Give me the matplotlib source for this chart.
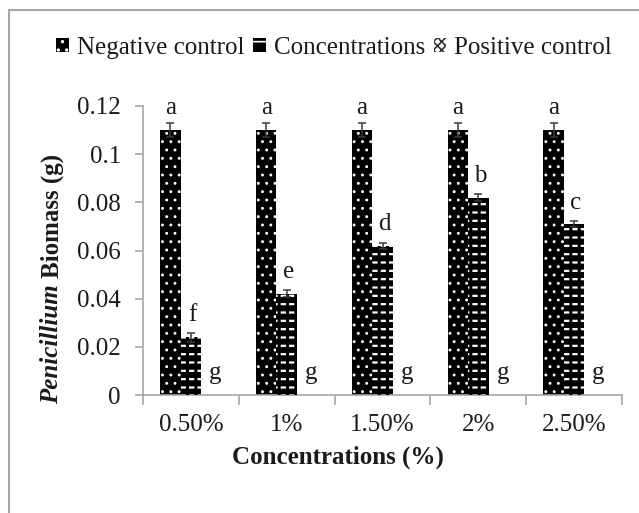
import matplotlib
matplotlib.use('Agg')
import matplotlib.pyplot as plt
from matplotlib.patches import Patch, Rectangle
import numpy as np

categories = ['0.50%', '1%', '1.50%', '2%', '2.50%']
negative = [0.11, 0.11, 0.11, 0.11, 0.11]
negative_err = [0.003, 0.003, 0.003, 0.003, 0.003]
concentrations = [0.024, 0.042, 0.062, 0.082, 0.071]
concentrations_err = [0.0018, 0.0015, 0.0013, 0.0013, 0.0013]
positive = [0, 0, 0, 0, 0]
neg_letters = ['a', 'a', 'a', 'a', 'a']
conc_letters = ['f', 'e', 'd', 'b', 'c']
pos_letters = ['g', 'g', 'g', 'g', 'g']

FONT = 'Liberation Serif'
FS = 18
plt.rcParams['font.family'] = FONT

W_PX, H_PX = 639, 513
fig = plt.figure(figsize=(W_PX/100, H_PX/100), dpi=100)
ax = fig.add_axes([143/W_PX, 1-395/H_PX, (622-143)/W_PX, (395-106)/H_PX])

x = np.arange(len(categories))
w = 0.214
GRAY = '#a6a6a6'
TXT = '#1a1a1a'

def hatched_bar(xpos, vals, hatch, face, hcolor, hlw, z=2):
    with plt.rc_context({'hatch.linewidth': hlw, 'hatch.color': hcolor}):
        bars = ax.bar(xpos, vals, w, color=face, edgecolor=hcolor, hatch=hatch, linewidth=0, zorder=z)
        for b in bars:
            if hasattr(b, 'set_hatch_linewidth'):
                b.set_hatch_linewidth(hlw)
    return bars

# Negative control: black with white dots
hatched_bar(x - w, negative, '..', 'black', 'white', 0.9)
# Concentrations: black with white brick dashes
hatched_bar(x, concentrations, '--', 'black', 'white', 1.6)
hatched_bar(x, concentrations, '||', 'none', 'black', 2.2, z=3)
# Positive control
hatched_bar(x + w, positive, 'xxx', 'white', '#555555', 1.0)

ax.errorbar(x - w, negative, yerr=negative_err, fmt='none', ecolor='#3a3a3a', elinewidth=1.1, capsize=3, capthick=1.1, zorder=4)
ax.errorbar(x, concentrations, yerr=concentrations_err, fmt='none', ecolor='#3a3a3a', elinewidth=1.1, capsize=3, capthick=1.1, zorder=4)

for i in range(len(categories)):
    ax.text(x[i] - w, negative[i] + negative_err[i] + 0.0015, neg_letters[i], ha='center', va='bottom', fontsize=FS, color=TXT)
    ax.text(x[i] + 0.02, concentrations[i] + concentrations_err[i] + 0.003, conc_letters[i], ha='center', va='bottom', fontsize=FS, color=TXT)
    ax.text(x[i] + w + 0.04, positive[i] + 0.0045, pos_letters[i], ha='center', va='bottom', fontsize=FS, color=TXT)

ax.set_xlim(-0.5, len(categories) - 0.5)
ax.set_ylim(0, 0.12)
ax.set_yticks([0, 0.02, 0.04, 0.06, 0.08, 0.1, 0.12])
ax.set_yticklabels(['0', '0.02', '0.04', '0.06', '0.08', '0.1', '0.12'])
ax.set_xticks(x)
ax.set_xticklabels(categories)
ax.set_xticks(np.arange(-0.5, len(categories)), minor=True)
ax.tick_params(axis='x', which='major', length=0, pad=14, labelsize=FS, labelcolor=TXT)
ax.tick_params(axis='x', which='minor', length=7, width=1.2, color=GRAY)
ax.tick_params(axis='y', length=6, width=1.2, color=GRAY, pad=10, labelsize=FS, labelcolor=TXT)

for s in ['top', 'right']:
    ax.spines[s].set_visible(False)
for s in ['left', 'bottom']:
    ax.spines[s].set_color(GRAY)
    ax.spines[s].set_linewidth(1.2)

ax.set_xlabel('Concentrations (%)', fontsize=FS, fontweight='bold', color=TXT)
ax.xaxis.set_label_coords(0.407, -0.2145)
ax.xaxis.label.set_va('center')

with plt.rc_context({'hatch.linewidth': 1.2}):
    handles = [
        Patch(facecolor='black', edgecolor='white', hatch='..', linewidth=0, label='Negative control'),
        Patch(facecolor='black', edgecolor='white', hatch='-', linewidth=0, label='Concentrations'),
        Patch(facecolor='white', edgecolor='#333333', hatch='xxxx', linewidth=0, label='Positive control'),
    ]
    fig.legend(handles=handles, loc='center', bbox_to_anchor=(0.5227, 0.906), ncol=3, frameon=False,
               fontsize=FS, handlelength=0.5, handleheight=0.5, handletextpad=0.32, columnspacing=0.36,
               labelcolor=TXT, borderpad=0)

fig.patches.append(Rectangle((9/W_PX, -0.1), 1.2, (H_PX-10)/H_PX + 0.1, transform=fig.transFigure,
                             fill=False, edgecolor=GRAY, linewidth=1.5))

# Y label composed of italic "Penicillium" and regular "Biomass (g)", both bold
ylab_x = 52/W_PX
t_it = fig.text(ylab_x, 0, 'Penicillium', rotation=90, ha='center', va='bottom', fontsize=FS,
                fontweight='bold', fontstyle='italic', color=TXT)
t_rg = fig.text(ylab_x, 0, 'Biomass (g)', rotation=90, ha='center', va='bottom', fontsize=FS,
                fontweight='bold', color=TXT)
fig.canvas.draw()
r = fig.canvas.get_renderer()
h1 = t_it.get_window_extent(r).height
h2 = t_rg.get_window_extent(r).height
gap = 0.25 * FS * 100 / 72
total = h1 + gap + h2
center = H_PX - 279
start = center - total / 2
t_it.set_y(start / H_PX)
t_rg.set_y((start + h1 + gap) / H_PX)

fig.savefig('out.png', dpi=100)
